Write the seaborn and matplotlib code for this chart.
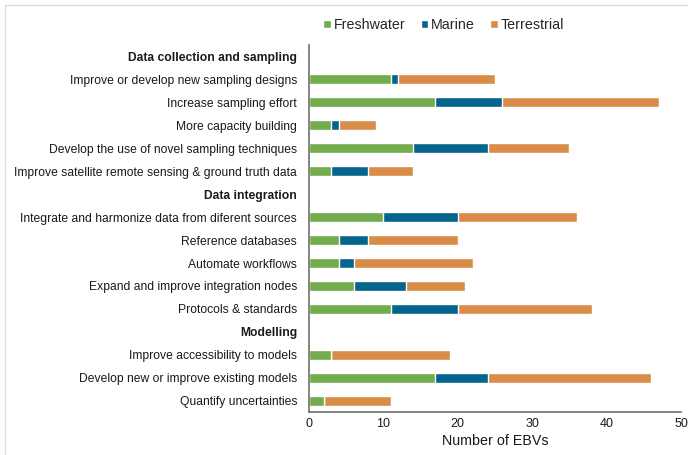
import pandas as pd
import matplotlib.pyplot as plt
import seaborn as sns
from matplotlib.patches import Patch, Rectangle

# categories (section headers have no bars)
labels = ['Data collection and sampling',
          'Improve or develop new sampling designs',
          'Increase sampling effort',
          'More capacity building',
          'Develop the use of novel sampling techniques',
          'Improve satellite remote sensing & ground truth data',
          'Data integration',
          'Integrate and harmonize data from diferent sources',
          'Reference databases',
          'Automate workflows',
          'Expand and improve integration nodes',
          'Protocols & standards',
          'Modelling',
          'Improve accessibility to models',
          'Develop new or improve existing models',
          'Quantify uncertainties']
headers = ['Data collection and sampling', 'Data integration', 'Modelling']

freshwater = [0, 11, 17, 3, 14, 3, 0, 10, 4, 4, 6, 11, 0, 3, 17, 2]
marine = [0, 1, 9, 1, 10, 5, 0, 10, 4, 2, 7, 9, 0, 0, 7, 0]
terrestrial = [0, 13, 21, 5, 11, 6, 0, 16, 12, 16, 8, 18, 0, 16, 22, 9]

colors = {'Freshwater': '#72AC4D', 'Marine': '#03658C', 'Terrestrial': '#D98C47'}

df = pd.DataFrame({'label': labels, 'Freshwater': freshwater,
                   'Marine': marine, 'Terrestrial': terrestrial})
df['fm'] = df['Freshwater'] + df['Marine']
df['total'] = df['fm'] + df['Terrestrial']

sns.set_style('white')
plt.rcParams['font.family'] = ['Liberation Sans', 'DejaVu Sans']

fig = plt.figure(figsize=(6.88, 4.55), dpi=100)
ax = fig.add_axes([0.449, 0.0938, 0.541, 0.8077])

# stacked bars: draw cumulative totals back to front
sns.barplot(data=df, x='total', y='label', color=colors['Terrestrial'],
            width=0.45, saturation=1, ax=ax)
sns.barplot(data=df, x='fm', y='label', color=colors['Marine'],
            width=0.45, saturation=1, ax=ax)
sns.barplot(data=df, x='Freshwater', y='label', color=colors['Freshwater'],
            width=0.45, saturation=1, ax=ax)

ax.set_xlim(0, 50)
ax.set_ylim(len(labels) - 0.5, -0.5)
ax.set_xticks(range(0, 51, 10))
ax.tick_params(axis='y', length=0, labelsize=8.7, colors='#1a1a1a', pad=8.5)
ax.tick_params(axis='x', length=0, labelsize=9, colors='#1a1a1a', pad=4)
for t in ax.get_yticklabels():
    if t.get_text() in headers:
        t.set_fontweight('bold')
ax.set_ylabel('')
ax.set_xlabel('Number of EBVs', fontsize=10.3, color='#1a1a1a', labelpad=3)

sns.despine(ax=ax)
for s in ['left', 'bottom']:
    ax.spines[s].set_color('#707070')
    ax.spines[s].set_linewidth(1.2)

handles = [Patch(facecolor=c, label=k) for k, c in colors.items()]
fig.legend(handles=handles, loc='center left', bbox_to_anchor=(323 / 688, 1 - 25 / 455),
           ncol=3, frameon=False, fontsize=10.3, borderpad=0, borderaxespad=0,
           handlelength=0.55, handleheight=0.55, handletextpad=0.2,
           columnspacing=1.05)

# light frame around the figure
fig.patches.append(Rectangle((5 / 688, -0.01), 1.0, 1 - 5 / 455 + 0.01,
                             transform=fig.transFigure, fill=False,
                             edgecolor='#DDDDDD', linewidth=1))

plt.savefig('out.png', dpi=100)
